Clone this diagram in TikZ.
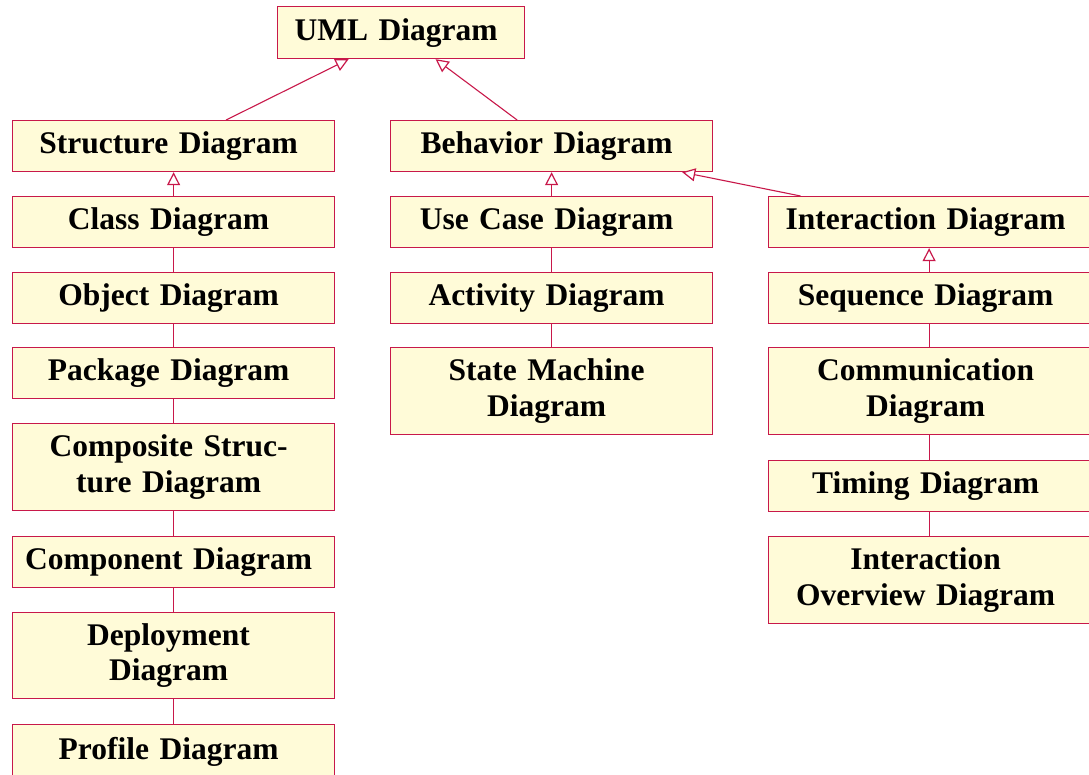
\documentclass[tikz,border=0pt]{standalone}
\usepackage{fontspec}
\setmainfont{Liberation Serif}
\usetikzlibrary{arrows.meta,calc}
\definecolor{boxline}{HTML}{C8184A}
\definecolor{boxfill}{HTML}{FFFBD8}
\begin{document}
\begin{tikzpicture}[x=1pt,y=-1pt,
  diag/.style={draw=boxline,fill=boxfill,line width=1.2pt,anchor=north west,
    inner sep=0pt,minimum height=#1,text width=322pt,
    execute at begin node={\leftskip=0pt plus 1fil\rightskip=10pt plus 1fil\parfillskip=0pt},
    font=\fontsize{31.5}{35.5}\selectfont\bfseries},
  diag/.default=51pt,
  link/.style={draw=boxline,line width=1.1pt},
  gen/.style={link,-{Triangle[open,length=13pt,width=13pt,fill=white,line width=1.2pt]}}]
\useasboundingbox (0,0) rectangle (1089,775);

% root
\node[diag, text width=247pt, minimum height=52pt] (uml) at (277,6) {UML Diagram};

% structure branch
\node[diag] (struct) at (12,120) {Structure Diagram};
\node[diag] (class) at (12,196) {Class Diagram};
\node[diag] (object) at (12,272) {Object Diagram};
\node[diag] (package) at (12,347) {Package Diagram};
\node[diag=87pt] (composite) at (12,423) {Composite Struc-\\ture Diagram};
\node[diag] (component) at (12,536) {Component Diagram};
\node[diag=86pt] (deploy) at (12,612) {Deployment\\Diagram};
\node[diag=54pt] (profile) at (12,724) {Profile Diagram};

% behavior branch
\node[diag] (behav) at (390,120) {Behavior Diagram};
\node[diag] (usecase) at (390,196) {Use Case Diagram};
\node[diag] (activity) at (390,272) {Activity Diagram};
\node[diag=87pt] (state) at (390,347) {State Machine\\Diagram};

% interaction branch
\node[diag, text width=324pt] (inter) at (768,196) {Interaction Diagram};
\node[diag, text width=324pt] (sequence) at (768,272) {Sequence Diagram};
\node[diag=87pt, text width=324pt] (comm) at (768,347) {Communication\\Diagram};
\node[diag, text width=324pt] (timing) at (768,460) {Timing Diagram};
\node[diag=87pt, text width=324pt] (overview) at (768,536) {Interaction\\Overview Diagram};

% generalisations
\draw[gen] ($(struct.north)+(52.5,0)$) -- ($(uml.south)+(-52.5,0)$);
\draw[gen] ($(behav.north)+(-34.5,0)$) -- ($(uml.south)+(34.5,0)$);
\draw[gen] ($(inter.north)+(-130,0)$) -- ($(behav.south east)+(-31,0)$);
\draw[gen] (class) -- (struct);
\draw[gen] (usecase) -- (behav);
\draw[gen] ($(sequence.north)+(-1.5,0)$) -- ($(inter.south)+(-1.5,0)$);

% sibling chains
\draw[link] (class) -- (object);
\draw[link] (object) -- (package);
\draw[link] (package) -- (composite);
\draw[link] (composite) -- (component);
\draw[link] (component) -- (deploy);
\draw[link] (deploy) -- (profile);
\draw[link] (usecase) -- (activity);
\draw[link] (activity) -- (state);
\draw[link] ($(sequence.south)+(-1.5,0)$) -- ($(comm.north)+(-1.5,0)$);
\draw[link] ($(comm.south)+(-1.5,0)$) -- ($(timing.north)+(-1.5,0)$);
\draw[link] ($(timing.south)+(-1.5,0)$) -- ($(overview.north)+(-1.5,0)$);
\end{tikzpicture}
\end{document}
